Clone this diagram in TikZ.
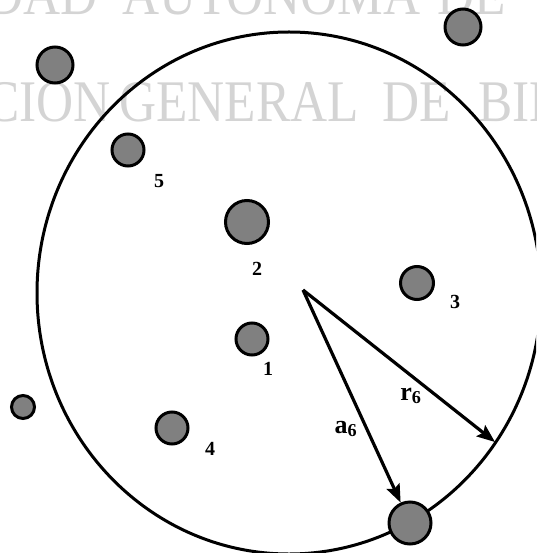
\documentclass[tikz,border=0pt]{standalone}
\usepackage{fontspec}
\setmainfont{Liberation Serif}
\usetikzlibrary{arrows.meta}
\definecolor{wm}{gray}{0.83}
\begin{document}
\begin{tikzpicture}[x=1pt,y=-1pt,
  particle/.style={circle,draw=black,line width=3pt,fill=black!50,inner sep=0pt},
  lbl/.style={inner sep=0pt,font=\fontsize{20}{20}\selectfont\bfseries},
  vec/.style={line width=3.2pt,-{Stealth[length=18pt,width=14pt,inset=3pt]}},
  wmark/.style={inner sep=0pt,text=wm,font=\fontsize{59}{59}\selectfont}]
\useasboundingbox (0,0) rectangle (536,553);
\begin{scope}
\clip (0,0) rectangle (536,553);
% watermark
\node[wmark,anchor=base east] (w1) at (98,15) {\scalebox{0.87}[1]{DAD}};
\node[wmark,anchor=base west] (w2) at (122,15) {\scalebox{0.87}[1]{AUTONOMA}};
\node[wmark,anchor=base west] (w3) at (437,15) {\scalebox{0.87}[1]{DE}};
\node[wmark,anchor=base east] (w4) at (111,122) {\scalebox{0.87}[1]{CION}};
\node[wmark,anchor=base west] (w5) at (119,122) {\scalebox{0.87}[1]{GENERAL}};
\node[wmark,anchor=base west] (w6) at (382,122) {\scalebox{0.87}[1]{DE}};
\node[wmark,anchor=base west] (w7) at (478,122) {\scalebox{0.87}[1]{BIB}};
% big circle
\draw[line width=3pt] (289,293) ellipse [x radius=252, y radius=261];
\end{scope}
% particles
\node[particle,minimum size=36pt] (q1) at (463,27) {};
\node[particle,minimum size=36pt] (q2) at (55,65) {};
\node[particle,minimum size=32pt] (p5) at (128,150) {};
\node[particle,minimum size=43pt] (p2) at (247,222) {};
\node[particle,minimum size=33pt] (p3) at (417,283) {};
\node[particle,minimum size=32pt] (p1) at (252,339) {};
\node[particle,minimum size=23pt] (q3) at (23,407) {};
\node[particle,minimum size=32pt] (p4) at (172,428) {};
\node[particle,minimum size=42pt] (p6) at (410,523) {};
% labels
\node[lbl] (l5) at (159,181) {5};
\node[lbl] (l2) at (257,269) {2};
\node[lbl] (l3) at (455,302) {3};
\node[lbl] (l1) at (268,369) {1};
\node[lbl] (l4) at (210,449) {4};
% vectors
\coordinate (o) at (303,290);
\coordinate (rend) at (495,442);
\draw[vec] (o) -- (p6);
\draw[vec] (o) -- (rend);
\node[inner sep=0pt,font=\fontsize{26}{26}\selectfont\bfseries] (la) at (346,429) {a$_{\mathbf{6}}$};
\node[inner sep=0pt,font=\fontsize{26}{26}\selectfont\bfseries] (lr) at (411,396) {r$_{\mathbf{6}}$};
\end{tikzpicture}
\end{document}
